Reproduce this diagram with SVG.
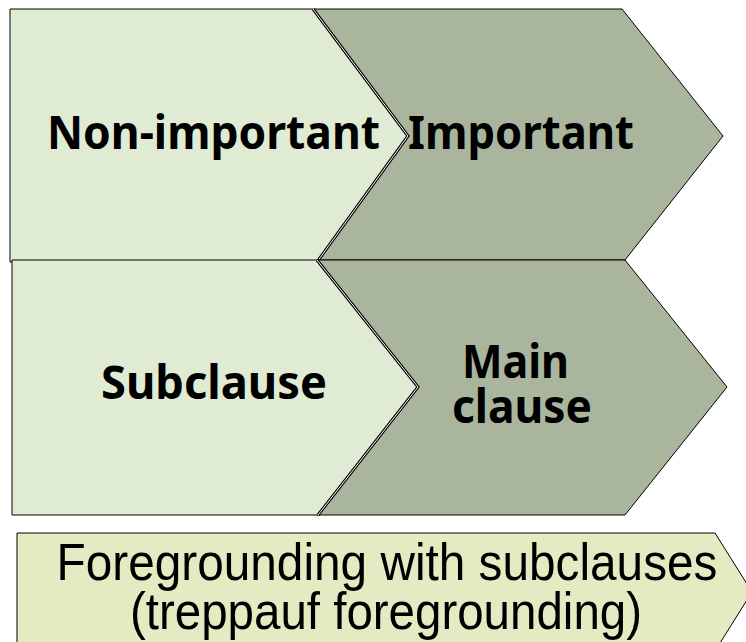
<svg xmlns="http://www.w3.org/2000/svg" width="746" height="642" viewBox="0 0 746 642">
<style>
.light{fill:#e0ebd3;stroke:#000;stroke-width:1}
.dark{fill:#a9b59d;stroke:#000;stroke-width:1}
.edge{fill:none;stroke:#000;stroke-width:3;stroke-linejoin:miter}
.edgew{fill:none;stroke:#fff;stroke-width:1}
.lbl{font-family:"Noto Sans","DejaVu Sans",sans-serif;font-weight:bold;font-size:46px;fill:#000}
.cap{font-family:"Liberation Sans",Arial,sans-serif;font-size:52px;fill:#000;text-anchor:middle}
</style>
<rect width="746" height="642" fill="#fff"/>
<g id="important">
<polygon class="dark" points="314,9 622,9 723,136 625,260 317,260 408,136"/>
<text class="lbl" x="408" y="149" textLength="226" lengthAdjust="spacingAndGlyphs">Important</text>
</g>
<g id="non-important">
<polygon class="light" points="10,9 313,9 408,136 317,262 10,262"/>
<polyline class="edge" points="313,9 408,136 317,262"/>
<polyline class="edgew" points="313,9 408,136 317,262"/>
<text class="lbl" x="47" y="149" textLength="333" lengthAdjust="spacingAndGlyphs">Non-important</text>
</g>
<g id="main-clause">
<polygon class="dark" points="317,260 625,260 727,387 625,515 317,515 418,387"/>
<text class="lbl" x="462" y="378" textLength="107" lengthAdjust="spacingAndGlyphs">Main</text>
<text class="lbl" x="452" y="423" textLength="140" lengthAdjust="spacingAndGlyphs">clause</text>
</g>
<g id="subclause">
<polygon class="light" points="12,260 317,260 418,387 318,515 12,515"/>
<polyline class="edge" points="317,260 418,387 318,515"/>
<polyline class="edgew" points="317,260 418,387 318,515"/>
<text class="lbl" x="101" y="399" textLength="226" lengthAdjust="spacingAndGlyphs">Subclause</text>
</g>
<g id="foregrounding">
<polygon points="17,533 715,533 752,592 715,651 17,651" fill="#e4ebc2" stroke="#000" stroke-width="1"/>
<text class="cap" x="387" y="580" textLength="661" lengthAdjust="spacingAndGlyphs">Foregrounding with subclauses</text>
<text class="cap" x="386" y="629" textLength="512" lengthAdjust="spacingAndGlyphs">(treppauf foregrounding)</text>
</g>
</svg>
